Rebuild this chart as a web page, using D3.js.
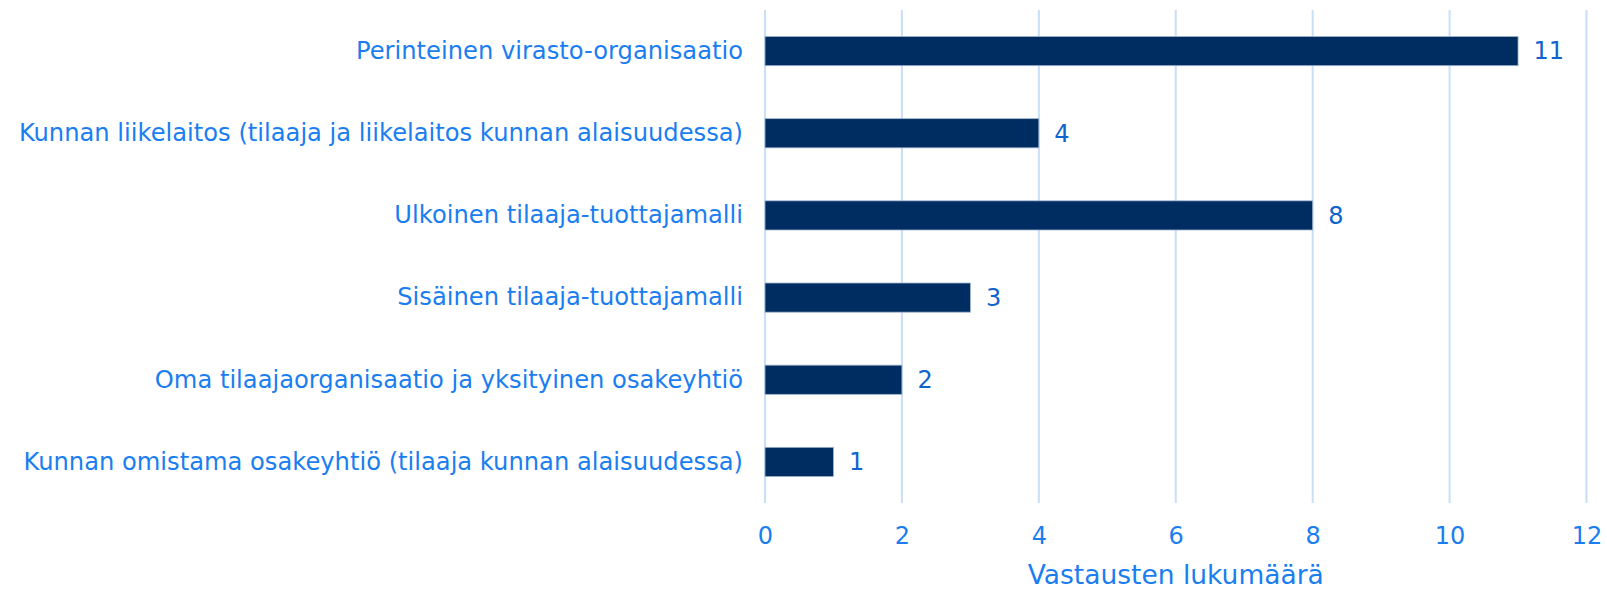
<!DOCTYPE html>
<html>
<head>
<meta charset="utf-8">
<script src="https://cdn.jsdelivr.net/npm/d3@7"></script>
<style>
  body { margin: 0; background: #fff; }
  svg { display: block; }
</style>
</head>
<body>
<div id="chart"></div>
<script>
// data
var categories = [
    "Perinteinen virasto-organisaatio",
    "Kunnan liikelaitos (tilaaja ja liikelaitos kunnan alaisuudessa)",
    "Ulkoinen tilaaja-tuottajamalli",
    "Sisäinen tilaaja-tuottajamalli",
    "Oma tilaajaorganisaatio ja yksityinen osakeyhtiö",
    "Kunnan omistama osakeyhtiö (tilaaja kunnan alaisuudessa)"
];
var counts = [11, 4, 8, 3, 2, 1];
var xTicks = [0, 2, 4, 6, 8, 10, 12];
var xTitle = "Vastausten lukumäärä";

var FONT = "'DejaVu Sans', Verdana, sans-serif";
var W = 1607, H = 589;
var margin = { left: 765, right: 20.5, top: 10, bottom: 86 };
var w = W - margin.left - margin.right;
var h = H - margin.top - margin.bottom;

var svg = d3.select("#chart")
    .append("svg")
    .attr("width", W)
    .attr("height", H)
    .attr("font-family", FONT);

var g = svg.append("g")
    .attr("transform", "translate(" + margin.left + "," + margin.top + ")");

var xScale = d3.scaleLinear()
    .domain([0, 12])
    .range([0, w]);

var yScale = d3.scaleBand()
    .domain(categories)
    .range([0, h])
    .paddingInner(0.645)
    .paddingOuter(0.3225);

// gridlines
g.selectAll(".grid")
    .data(xTicks)
    .enter().append("line")
    .attr("class", "grid")
    .attr("x1", function(d) { return xScale(d); })
    .attr("x2", function(d) { return xScale(d); })
    .attr("y1", 0)
    .attr("y2", h)
    .attr("stroke", "#c9def7")
    .attr("stroke-width", 2);

// x axis (labels only)
var xAxis = d3.axisBottom(xScale)
    .tickValues(xTicks)
    .tickSize(0)
    .tickPadding(24);

var xAxisGroup = g.append("g")
    .attr("class", "x axis")
    .attr("transform", "translate(0," + h + ")")
    .call(xAxis);
xAxisGroup.attr("font-family", FONT).attr("font-size", 24);
xAxisGroup.select(".domain").remove();
xAxisGroup.selectAll("text")
    .attr("fill", "#1a7ef0");

// y axis (labels only)
var yAxis = d3.axisLeft(yScale)
    .tickSize(0)
    .tickPadding(22);

var yAxisGroup = g.append("g")
    .attr("class", "y axis")
    .call(yAxis);
yAxisGroup.attr("font-family", FONT).attr("font-size", 24.2);
yAxisGroup.select(".domain").remove();
yAxisGroup.selectAll("text")
    .attr("fill", "#1a7ef0");

// bars
g.selectAll(".bar")
    .data(counts)
    .enter().append("rect")
    .attr("class", "bar")
    .attr("x", xScale(0))
    .attr("y", function(d, i) { return yScale(categories[i]); })
    .attr("width", function(d) { return xScale(d) - xScale(0); })
    .attr("height", yScale.bandwidth())
    .attr("fill", "#002d61")
    .attr("stroke", "#9fb4cf")
    .attr("stroke-width", 0.8);

// value labels
g.selectAll(".value")
    .data(counts)
    .enter().append("text")
    .attr("class", "value")
    .attr("x", function(d) { return xScale(d) + 15.5; })
    .attr("y", function(d, i) { return yScale(categories[i]) + yScale.bandwidth() / 2; })
    .attr("dy", "0.35em")
    .attr("font-size", 24)
    .attr("fill", "#0f63cc")
    .text(function(d) { return d; });

// x axis title
g.append("text")
    .attr("class", "x-axis label")
    .attr("x", w / 2)
    .attr("y", h + 81)
    .attr("font-size", 26.5)
    .attr("text-anchor", "middle")
    .attr("fill", "#1a7ef0")
    .text(xTitle);
</script>
</body>
</html>
